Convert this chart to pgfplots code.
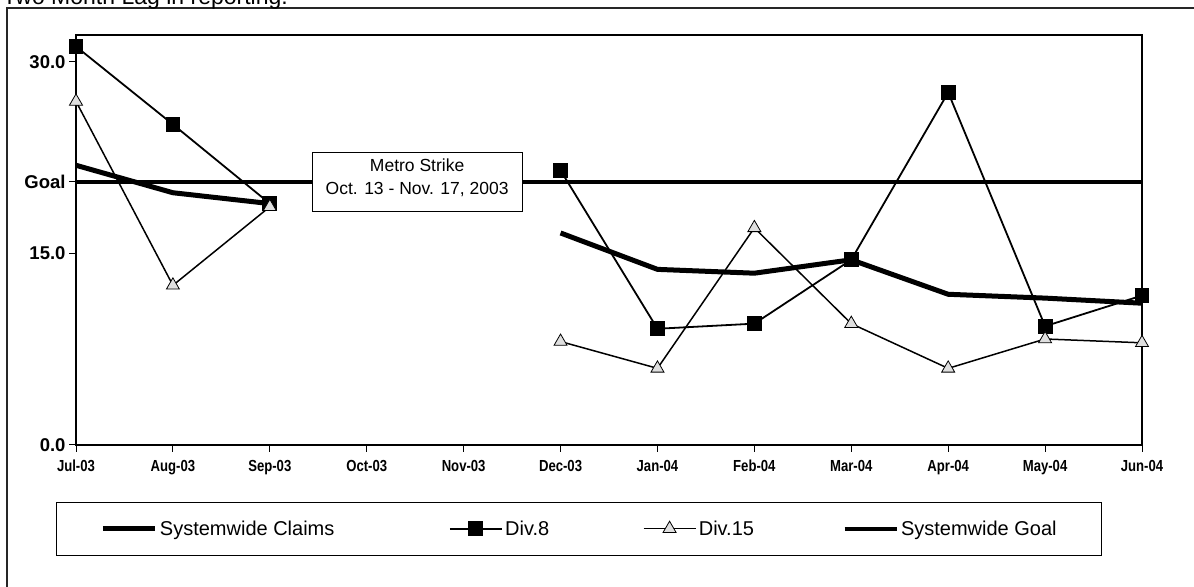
\documentclass[border=0pt]{standalone}
\usepackage{fontspec}
\setmainfont{Liberation Sans}
\newfontfamily\narrowfont{Liberation Sans}[FakeStretch=0.82]
\usepackage{pgfplots}
\pgfplotsset{compat=1.18}
% legend line for the first entry, with a little room on its left
\pgfplotsset{claims legend/.style={legend image code/.code={
  \path (-2bp,0bp);
  \draw[##1] (0bp,0bp) -- (52bp,0bp);
}}}

\pgfplotstableread{
m  claims  divEight  divFifteen  goal
0  21.9    31.2      26.9        20.6
1  19.75   25.1      12.5        20.6
2  18.9    18.9      18.65       20.6
3  nan     nan       nan         20.6
4  nan     nan       nan         20.6
5  16.6    21.5      8.1         20.6
6  13.75   9.1       6.0         20.6
7  13.45   9.5       17.0        20.6
8  14.5    14.5      9.5         20.6
9  11.8    27.6      6.0         20.6
10 11.5    9.3       8.3         20.6
11 11.1    11.7      8.0         20.6
}\claimsdata

\begin{document}
\begin{tikzpicture}[x=1bp,y=1bp]
\useasboundingbox (0,0) rectangle (1194,587);
\clip (0,0) rectangle (1194,587);
% page frame
\draw[line width=1.3bp, black!85] (7,-10) -- (7,579) -- (1210,579);
% heading above the chart
\node[anchor=base east, font=\fontsize{23bp}{27bp}\selectfont, inner sep=0pt] at (288,582.5) {Two Month Lag in reporting.};

\begin{axis}[
  at={(76bp,142bp)}, anchor=south west,
  scale only axis, width=1066bp, height=410bp,
  xmin=0, xmax=11, ymin=0, ymax=32.1,
  clip=false,
  unbounded coords=jump,
  axis line style={line width=1.4bp},
  tick align=outside,
  xtick pos=bottom, ytick pos=left,
  major tick length=7bp,
  tick style={line width=1bp, black},
  xtick={0,...,11},
  xticklabels={Jul-03,Aug-03,Sep-03,Oct-03,Nov-03,Dec-03,Jan-04,Feb-04,Mar-04,Apr-04,May-04,Jun-04},
  xticklabel style={font=\narrowfont\bfseries\fontsize{16bp}{18bp}\selectfont,
    text height=11.5bp, text depth=0bp, yshift=-4bp},
  ytick={0,15,20.6,30},
  yticklabels={0.0,15.0,Goal,30.0},
  yticklabel style={font=\bfseries\fontsize{18.5bp}{22bp}\selectfont},
  legend columns=4,
  legend style={
    at={(-0.0188,-0.1383)}, anchor=north west,
    draw=black, line width=1bp, fill=white,
    inner xsep=42bp, inner ysep=16bp,
    font=\fontsize{20bp}{24bp}\selectfont,
    nodes={inner sep=2.5bp},
  },
  legend image code/.code={
    \draw[mark repeat=2, mark phase=2, #1] plot coordinates {(0bp,0bp) (26bp,0bp) (52bp,0bp)};
  },
]
% systemwide claims
\addplot[black, line width=5bp, line join=round, mark=none, claims legend]
  table[x=m, y=claims] {\claimsdata};
\addlegendentry{Systemwide Claims\hspace*{112bp}}
% division 8
\addplot[black, line width=1.8bp, mark=square*, mark size=6.5bp,
  mark options={fill=black, solid}] table[x=m, y=divEight] {\claimsdata};
\addlegendentry{Div.8\hspace*{91bp}}
% division 15
\addplot[black, line width=1.5bp, mark=triangle*, mark size=7.5bp,
  mark options={fill=gray!25, draw=black, line width=0.8bp, solid}] table[x=m, y=divFifteen] {\claimsdata};
\addlegendentry{Div.15\hspace*{86bp}}
% systemwide goal
\addplot[black, line width=4bp, mark=none] table[x=m, y=goal] {\claimsdata};
\addlegendentry{Systemwide Goal}

% strike period note
\node[draw=black, line width=1.2bp, fill=white, minimum width=210bp, minimum height=59bp, inner sep=0pt]
  at (axis cs:3.52,20.6) {};
\node[align=center, font=\fontsize{17.5bp}{23bp}\selectfont, inner sep=0pt]
  at (axis cs:3.52,20.6) [yshift=4bp] {Metro Strike\\Oct. 13 - Nov. 17, 2003};
\end{axis}
\end{tikzpicture}
\end{document}
